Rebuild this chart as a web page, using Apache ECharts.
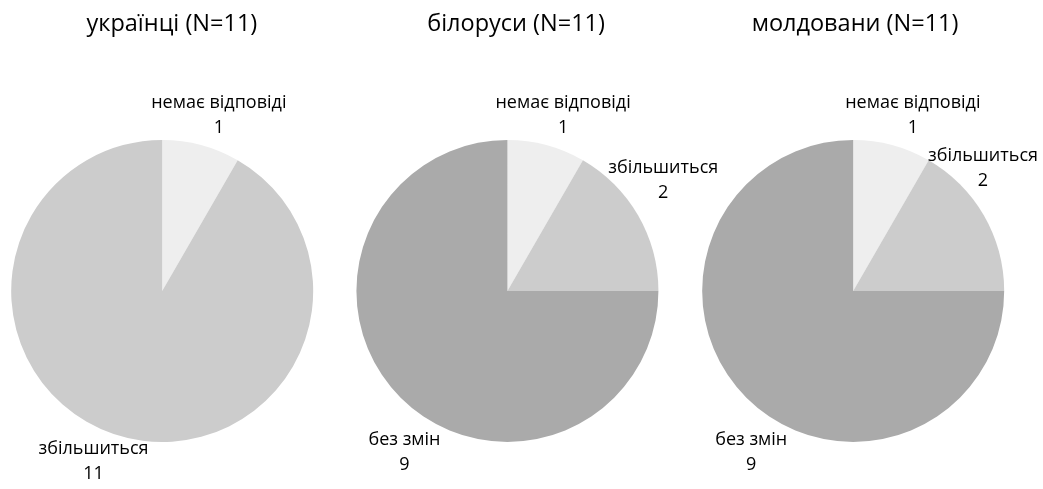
<!DOCTYPE html>
<html>
<head>
<meta charset="utf-8">
<script src="https://cdn.jsdelivr.net/npm/echarts@6/dist/echarts.min.js"></script>
<style>
html,body{margin:0;padding:0;background:#fff;}
#chart{width:1043px;height:489px;}
</style>
</head>
<body>
<div id="chart"></div>
<script>
// ---- data ----
const groups = ['українці', 'білоруси', 'молдовани'];
const groupN = [11, 11, 11];
const sliceNames1 = ['немає відповіді', 'збільшиться'];
const sliceValues1 = [1, 11];
const sliceNames2 = ['немає відповіді', 'збільшиться', 'без змін'];
const sliceValues2 = [1, 2, 9];
const sliceNames3 = ['немає відповіді', 'збільшиться', 'без змін'];
const sliceValues3 = [1, 2, 9];

// ---- styles / layout ----
const FONT = 'Open Sans';
const sliceColors = ['#eeeeee', '#cccccc', '#aaaaaa'];
const pieCentersX = [0.1555, 0.4865, 0.818];
const pieCenterY = 0.595;
const pieRadius = 151;
const titleCentersX = [0.160, 0.490, 0.815];
const labelRadius = 188;
const labelNudges = [
  [[8, 6], [-20, -11]],
  [[7, 6], [-7, -17], [30, 28]],
  [[11, 6], [-33, -29], [31, 28]]
];

const names = [sliceNames1, sliceNames2, sliceNames3];
const values = [sliceValues1, sliceValues2, sliceValues3];

const chart = echarts.init(document.getElementById('chart'), null, {renderer: 'canvas'});
const W = chart.getWidth(), H = chart.getHeight();

function midAngles(vals) {
  const total = vals.reduce((a, b) => a + b, 0);
  let acc = 0;
  return vals.map(v => { const m = (acc + v / 2) / total * 2 * Math.PI; acc += v; return m; });
}

const titles = groups.map((g, i) => ({
  text: g + ' (N=' + groupN[i] + ')',
  left: (titleCentersX[i] * 100) + '%',
  top: 7,
  textAlign: 'center',
  textStyle: {fontFamily: FONT, fontSize: 23.5, fontWeight: 'normal', color: '#000'}
}));

const series = values.map((vals, si) => {
  const mids = midAngles(vals);
  const cx = pieCentersX[si] * W, cy = pieCenterY * H;
  return {
    type: 'pie',
    center: [(pieCentersX[si] * 100) + '%', (pieCenterY * 100) + '%'],
    radius: pieRadius,
    startAngle: 90,
    clockwise: true,
    avoidLabelOverlap: false,
    silent: true,
    animation: false,
    emphasis: {disabled: true},
    itemStyle: {borderWidth: 0},
    label: {
      show: true,
      position: 'outside',
      formatter: '{b}\n{c}',
      fontFamily: FONT,
      fontSize: 18,
      lineHeight: 25,
      color: '#000'
    },
    labelLine: {show: false},
    labelLayout: function (p) {
      const a = mids[p.dataIndex];
      const n = labelNudges[si][p.dataIndex];
      return {
        x: cx + labelRadius * Math.sin(a) + n[0],
        y: cy - labelRadius * Math.cos(a) + n[1],
        align: 'center',
        verticalAlign: 'middle'
      };
    },
    data: vals.map((v, k) => ({name: names[si][k], value: v, itemStyle: {color: sliceColors[k]}}))
  };
});

chart.setOption({
  backgroundColor: '#fff',
  animation: false,
  title: titles,
  series: series
});
</script>
</body>
</html>
